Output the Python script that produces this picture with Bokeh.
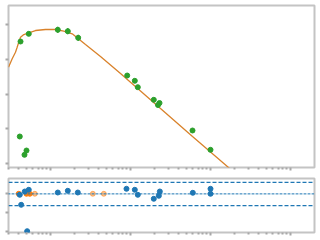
from bokeh.plotting import figure
from bokeh.layouts import column
from bokeh.models import Range1d, FixedTicker, Span
from bokeh.embed import file_html
from bokeh.resources import INLINE

# ---- data ----
model_x = [0.2985, 0.332, 0.365, 0.383, 0.401, 0.422, 0.464, 0.535, 0.649, 0.866,
           1.155, 1.466, 1.868, 2.738, 4.217, 7.499, 13.34, 23.71, 59.57, 167.9, 237.0]
model_y = [3.771, 4.013, 4.203, 4.347, 4.491, 4.635, 4.712, 4.761, 4.827, 4.856,
           4.856, 4.807, 4.732, 4.424, 4.079, 3.590, 3.086, 2.583, 1.777, 0.885, 0.597]

data_x = [0.422, 0.535, 1.234, 1.645, 2.219, 9.09, 11.32, 12.34, 19.55, 22.07,
          23.05, 59.57, 100.0, 0.413, 0.501, 0.473]
data_y = [4.511, 4.732, 4.848, 4.807, 4.617, 3.532, 3.380, 3.196, 2.833, 2.683,
          2.741, 1.950, 1.394, 1.777, 1.374, 1.250]
data_err = [0.06, 0.05, 0.09, 0.09, 0.09, 0.05, 0.05, 0.05, 0.05, 0.05,
            0.05, 0.05, 0.05, 0.05, 0.05, 0.05]

res_x = [0.413, 0.430, 0.477, 0.511, 0.535, 1.234, 1.645, 2.194, 8.91, 11.32,
         12.34, 19.55, 22.6, 23.25, 60.1, 100.0, 100.0]
res_y = [-0.053, -0.579, 0.121, -1.968, 0.211, 0.068, 0.158, 0.068, 0.263, 0.211,
         -0.053, -0.263, -0.105, 0.121, 0.053, 0.263, 0.0]

lim_x = [0.401, 0.501, 0.551]
lim_y = [0.0, 0.0, 0.0]
lim2_x = [0.637, 3.38, 4.64]
lim2_y = [0.0, 0.0, 0.0]

band_hi = 0.6
band_lo = -0.62

x_major = [1, 10, 100, 1000]
x_minor = [k * 10.0 ** d for d in range(-1, 4) for k in range(2, 10)]
y_top_ticks = [1, 2, 3, 4, 5]
y_bot_ticks = [-2, -1, 0]

SPINE = "#c4c4c4"
TICK = "#a8a8a8"


def style(p, yticks):
    p.outline_line_color = SPINE
    p.outline_line_width = 2
    p.xgrid.visible = False
    p.ygrid.visible = False
    p.background_fill_color = "white"
    p.border_fill_color = "white"
    for ax in (p.xaxis[0], p.yaxis[0]):
        ax.axis_line_color = None
        ax.major_tick_line_color = TICK
        ax.minor_tick_line_color = TICK
        ax.major_tick_line_width = 2
        ax.minor_tick_line_width = 2
        ax.major_tick_out = 3
        ax.major_tick_in = 0
        ax.minor_tick_out = 2
        ax.minor_tick_in = 0
        ax.major_label_text_font_size = "1px"
        ax.major_label_text_alpha = 0
        ax.major_label_standoff = 0
    p.xaxis[0].ticker = FixedTicker(ticks=x_major, minor_ticks=x_minor)
    p.yaxis[0].ticker = FixedTicker(ticks=yticks, minor_ticks=[])


xr = Range1d(0.2985, 1995)

top = figure(width=320, height=172, x_axis_type="log", x_range=xr,
             y_range=Range1d(0.885, 5.547), output_backend="svg",
             toolbar_location=None, min_border_left=8, min_border_right=6,
             min_border_top=5, min_border_bottom=5)
style(top, y_top_ticks)

top.line(model_x, model_y, line_color="#d9822b", line_width=1.3)
dy0 = [y - e for y, e in zip(data_y, data_err)]
dy1 = [y + e for y, e in zip(data_y, data_err)]
top.segment(x0=data_x, y0=dy0, x1=data_x, y1=dy1, line_color="#2ca02c", line_width=1.2)
top.scatter(data_x, data_y, size=5, fill_color="#2ca02c", line_color="#2ca02c")

bot = figure(width=320, height=68, x_axis_type="log", x_range=xr,
             y_range=Range1d(-2.037, 0.805), output_backend="svg",
             toolbar_location=None, min_border_left=8, min_border_right=6,
             min_border_top=6, min_border_bottom=8)
style(bot, y_bot_ticks)

bot.add_layout(Span(location=band_hi, dimension="width", line_color="#1f77b4",
                    line_dash="4 2", line_width=1.2))
bot.add_layout(Span(location=band_lo, dimension="width", line_color="#1f77b4",
                    line_dash="4 2", line_width=1.2))
bot.add_layout(Span(location=0, dimension="width", line_color="#1f77b4",
                    line_alpha=0.35, line_width=1.2))
bot.add_layout(Span(location=0, dimension="width", line_color="#1f77b4",
                    line_dash="1 3", line_width=1.4))

bot.scatter(lim2_x, lim2_y, size=5, fill_color="#ff7f0e", line_color="#ff7f0e", alpha=0.5)
bot.scatter(lim_x, lim_y, size=5, fill_color="#ff7f0e", line_color="#ff7f0e")
bot.scatter(res_x, res_y, size=5, fill_color="#1f77b4", line_color="#1f77b4")

layout = column(top, bot, spacing=0)
open("out.html", "w").write(file_html(layout, INLINE))
